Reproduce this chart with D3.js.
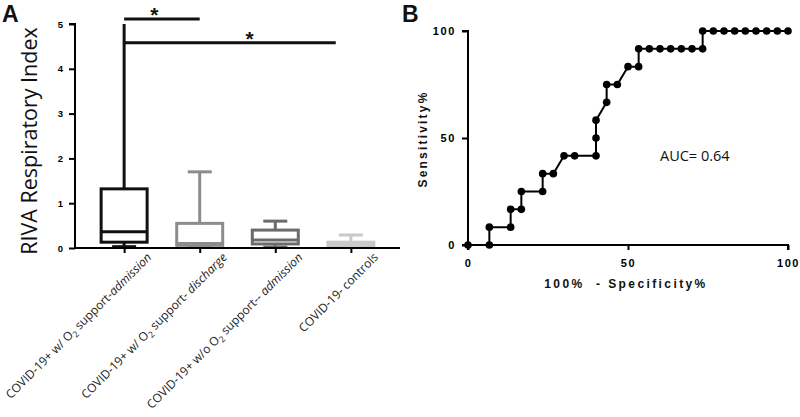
<!DOCTYPE html>
<html>
<head>
<meta charset="utf-8">
<script src="https://cdn.jsdelivr.net/npm/d3@7"></script>
<style>
  html, body { margin: 0; padding: 0; background: #fff; }
  svg { display: block; }
</style>
</head>
<body>
<svg id="chart" width="800" height="417"></svg>
<script>
// ---------- Panel A data (box plots) ----------
const groups = ["g1", "g2", "g3", "g4"];
const groupLabels = [
  [["COVID-19+ w/ O", ""], ["2", "sub"], [" support-", ""], ["admission", "it"]],
  [["COVID-19+ w/ O", ""], ["2", "sub"], [" support- ", ""], ["discharge", "it"]],
  [["COVID-19+ w/o O", ""], ["2", "sub"], [" support-- ", ""], ["admission", "it"]],
  [["COVID-19- controls", ""]]
];
const boxMin    = [0.03, 0.04, 0.02, 0.02];
const boxQ1     = [0.13, 0.06, 0.09, 0.04];
const boxMedian = [0.36, 0.10, 0.18, 0.08];
const boxQ3     = [1.32, 0.55, 0.40, 0.13];
const boxMax    = [5.00, 1.70, 0.60, 0.29];
const boxColors = ["#111111", "#8c8c8c", "#6b6b6b", "#c9c9c9"];
const yTicksA = [0, 1, 2, 3, 4, 5];
// significance brackets: start/end as category index, level in data units
const bracketFrom  = [0, 0];
const bracketTo    = [1, 2.8];
const bracketLevel = [5.11, 4.58];
const bracketStarAt = [0.4, 1.66];

// ---------- Panel B data (ROC curve) ----------
const rocX = [0, 6.67, 6.67, 13.33, 13.33, 16.67, 16.67, 23.33, 23.33, 26.67, 30, 33.33, 40, 40, 40,
  43.33, 43.33, 46.67, 50, 53.33, 53.33, 56.67, 60, 63.33, 66.67, 70, 73.33, 73.33,
  76.67, 80, 83.33, 86.67, 90, 93.33, 96.67, 100];
const rocY = [0, 0, 8.33, 8.33, 16.67, 16.67, 25, 25, 33.33, 33.33, 41.67, 41.67, 41.67, 50, 58.33,
  66.67, 75, 75, 83.33, 83.33, 91.67, 91.67, 91.67, 91.67, 91.67, 91.67, 91.67, 100,
  100, 100, 100, 100, 100, 100, 100, 100];
const ticksB = [0, 50, 100];
const aucText = "AUC= 0.64";

const svg = d3.select("#chart");
const boldFont = "'Liberation Sans', Arial, sans-serif";
const openFont = "'Open Sans', sans-serif";

// ================= Panel A =================
const yA = d3.scaleLinear().domain([0, 5]).range([248, 24]);
const xA = d3.scalePoint().domain(groups).range([75, 400]).padding(0.65);
const xIdx = d3.scaleLinear().domain([0, groups.length - 1]).range([xA(groups[0]), xA(groups[groups.length - 1])]);
const gA = svg.append("g");

// y axis
const yAxisA = d3.axisLeft(yA).tickValues(yTicksA).tickSize(6).tickPadding(6).tickFormat(d3.format("d"));
const yaG = gA.append("g").attr("transform", "translate(75,0)").call(yAxisA);
yaG.select(".domain").attr("stroke", "#000").attr("stroke-width", 2).attr("d", `M-6,${yA(5)}H0V${yA(0)}`);
yaG.selectAll(".tick line").attr("stroke", "#000").attr("stroke-width", 2);
yaG.selectAll(".tick text").attr("font-family", boldFont).attr("font-weight", "bold").attr("font-size", 9.5).attr("fill", "#000");

// x axis
const xAxisA = d3.axisBottom(xA).tickSize(5).tickFormat("");
const xaG = gA.append("g").attr("transform", `translate(0,${yA(0)})`).call(xAxisA);
xaG.select(".domain").attr("stroke", "#000").attr("stroke-width", 2).attr("d", "M75,0H400");
xaG.selectAll(".tick line").attr("stroke", "#000").attr("stroke-width", 2);

// x labels (rotated)
groups.forEach((g, i) => {
  const t = gA.append("text")
    .attr("transform", `translate(${xA(g) + 28},258) rotate(-45)`)
    .attr("text-anchor", "end")
    .attr("font-family", openFont)
    .attr("font-size", 12)
    .attr("fill", "#222");
  let prevSub = false;
  groupLabels[i].forEach(([s, kind]) => {
    const ts = t.append("tspan").text(s);
    if (kind === "sub") ts.attr("font-size", 8.5).attr("dy", 3);
    else if (prevSub) ts.attr("dy", -3);
    if (kind === "it") ts.attr("font-style", "italic");
    prevSub = kind === "sub";
  });
});

// y label
gA.append("text")
  .attr("transform", `translate(37,141) rotate(-90)`)
  .attr("text-anchor", "middle")
  .attr("font-family", openFont)
  .attr("font-size", 21.5)
  .attr("fill", "#111")
  .text("RIVA Respiratory Index");

// boxes
const boxW = 46, capW = 24;
groups.forEach((g, i) => {
  const cx = xA(g), col = boxColors[i];
  const bg = gA.append("g").attr("stroke", col).attr("stroke-width", 3).attr("fill", "none");
  const top = Math.min(boxMax[i], 5);
  bg.append("line").attr("x1", cx).attr("x2", cx).attr("y1", yA(boxQ3[i])).attr("y2", yA(top));
  if (boxMax[i] < 5) {
    bg.append("line").attr("x1", cx - capW / 2).attr("x2", cx + capW / 2).attr("y1", yA(boxMax[i])).attr("y2", yA(boxMax[i]));
  }
  bg.append("line").attr("x1", cx).attr("x2", cx).attr("y1", yA(boxQ1[i])).attr("y2", yA(boxMin[i]));
  bg.append("line").attr("x1", cx - capW / 2).attr("x2", cx + capW / 2).attr("y1", yA(boxMin[i])).attr("y2", yA(boxMin[i]));
  bg.append("rect").attr("x", cx - boxW / 2).attr("width", boxW)
    .attr("y", yA(boxQ3[i])).attr("height", yA(boxQ1[i]) - yA(boxQ3[i]))
    .attr("fill", "#fff");
  bg.append("line").attr("x1", cx - boxW / 2).attr("x2", cx + boxW / 2).attr("y1", yA(boxMedian[i])).attr("y2", yA(boxMedian[i]));
});
// redraw baseline over boxes
gA.append("line").attr("x1", 75).attr("x2", 400).attr("y1", yA(0)).attr("y2", yA(0)).attr("stroke", "#000").attr("stroke-width", 2);

// brackets
bracketFrom.forEach((f, i) => {
  gA.append("line").attr("x1", xIdx(f)).attr("x2", xIdx(bracketTo[i]))
    .attr("y1", yA(bracketLevel[i])).attr("y2", yA(bracketLevel[i]))
    .attr("stroke", "#111").attr("stroke-width", 3);
  gA.append("text").attr("x", xIdx(bracketStarAt[i])).attr("y", yA(bracketLevel[i]) + 3)
    .attr("text-anchor", "middle").attr("font-family", boldFont).attr("font-weight", "bold")
    .attr("font-size", 21).attr("fill", "#111").text("*");
});

// panel letter A
svg.append("text").attr("x", 2).attr("y", 22).attr("font-family", boldFont).attr("font-weight", "bold")
  .attr("font-size", 23).attr("fill", "#111").text("A");

// ================= Panel B =================
const xB = d3.scaleLinear().domain([0, 100]).range([468, 788]);
const yB = d3.scaleLinear().domain([0, 100]).range([245, 31]);
const gB = svg.append("g");

const yAxisB = d3.axisLeft(yB).tickValues(ticksB).tickSize(6).tickPadding(6);
const ybG = gB.append("g").attr("transform", `translate(${xB(0)},0)`).call(yAxisB);
ybG.select(".domain").attr("stroke", "#000").attr("stroke-width", 2).attr("d", `M-6,${yB(100)}H0V${yB(0)}H-6`);
ybG.selectAll(".tick line").attr("stroke", "#000").attr("stroke-width", 2);
ybG.selectAll(".tick text").attr("font-family", boldFont).attr("font-weight", "bold").attr("font-size", 11)
  .attr("letter-spacing", 1.6).attr("fill", "#000");

const xAxisB = d3.axisBottom(xB).tickValues(ticksB).tickSize(5).tickPadding(9);
const xbG = gB.append("g").attr("transform", `translate(0,${yB(0)})`).call(xAxisB);
xbG.select(".domain").attr("stroke", "#000").attr("stroke-width", 2).attr("d", `M${xB(0)},5V0H${xB(100)}V5`);
xbG.selectAll(".tick line").attr("stroke", "#000").attr("stroke-width", 2);
xbG.selectAll(".tick text").attr("font-family", boldFont).attr("font-weight", "bold").attr("font-size", 11)
  .attr("letter-spacing", 1.6).attr("fill", "#000");

// axis titles
gB.append("text").attr("x", 626).attr("y", 288).attr("text-anchor", "middle")
  .attr("font-family", boldFont).attr("font-weight", "bold").attr("font-size", 12)
  .attr("letter-spacing", 2.4).attr("fill", "#111").attr("xml:space", "preserve").text("100%  - Specificity%");
gB.append("text").attr("transform", "translate(427,139) rotate(-90)").attr("text-anchor", "middle")
  .attr("font-family", boldFont).attr("font-weight", "bold").attr("font-size", 12)
  .attr("letter-spacing", 2.2).attr("fill", "#111").text("Sensitivity%");

// ROC line and points
const rocPts = rocX.map((x, i) => [x, rocY[i]]);
gB.append("path").datum(rocPts)
  .attr("d", d3.line().x(d => xB(d[0])).y(d => yB(d[1])))
  .attr("fill", "none").attr("stroke", "#000").attr("stroke-width", 2);
gB.selectAll("circle.pt").data(rocPts).join("circle")
  .attr("class", "pt").attr("cx", d => xB(d[0])).attr("cy", d => yB(d[1])).attr("r", 3.8).attr("fill", "#000");

// AUC text
gB.append("text").attr("x", 660).attr("y", 161).attr("font-family", openFont).attr("font-size", 14.5)
  .attr("fill", "#111").text(aucText);

// panel letter B
svg.append("text").attr("x", 402).attr("y", 22).attr("font-family", boldFont).attr("font-weight", "bold")
  .attr("font-size", 23).attr("fill", "#111").text("B");
</script>
</body>
</html>
